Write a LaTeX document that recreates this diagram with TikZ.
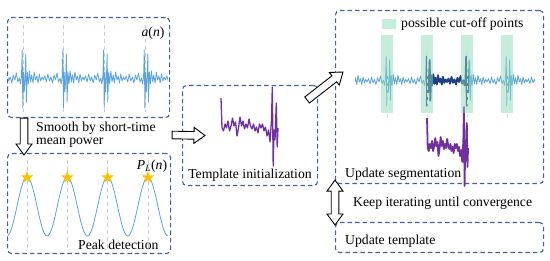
\documentclass[tikz,border=0pt]{standalone}
\usepackage{fontspec}
\setmainfont{Liberation Serif}
\usetikzlibrary{calc,shapes.geometric}
\definecolor{boxc}{RGB}{68,97,156}
\definecolor{sigc}{RGB}{91,163,219}
\definecolor{darkc}{RGB}{31,63,128}
\definecolor{purp}{RGB}{112,48,160}
\definecolor{bandc}{RGB}{140,220,185}
\definecolor{starc}{RGB}{255,192,0}
\definecolor{gridc}{RGB}{205,205,205}
\def\beatlist{-20/0, -18.5/-4, -17/2, -15.5/-6, -14/1, -12.5/-3, -11/3, -9.5/-5, -8/0, -6.5/-7, -5/2, -3.5/-2, -2.5/4, -1.5/-3, -0.8/-30, -0.2/28, 0.5/-8, 1.2/12, 2/-2, 2.7/-26, 3.3/22, 4.2/-8, 5.2/4, 6.3/-9, 7.5/2, 8.5/-5, 9.8/3, 11/-8, 12.3/0, 13.5/-4, 14.8/3, 16/-6, 17.3/1, 18.7/-3, 20/0}
\def\templist{1/1, 2.5/4, 4/-3, 5.5/1, 7/-6, 8.5/4, 10/-1, 11.5/-9, 13/-1, 14.5/-5, 16/9, 17.5/1, 19/-10, 20.5/-1, 22/-6, 23.5/2, 25/-3, 26.5/1, 28/-8, 29.5/-1, 31/2, 32.5/-3, 34/4, 35.5/0, 37/6, 38.5/-3, 40/1, 41.5/-3, 43/4, 44.5/0, 46/9, 47.5/3, 49/15, 50.5/-7, 51.3/-40, 52.2/39, 53/3, 54/13, 55.3/-24, 56.2/20, 57/1}
\newcommand\harrow[2]{%
\draw[harr] let \p1=#1, \p2=#2, \n1={atan2(\y2-\y1,\x2-\x1)}, \n2={veclen(\x2-\x1,\y2-\y1)} in [shift={(\p1)}, rotate=\n1]
 (0,3.8) -- ({\n2-11},3.8) -- ({\n2-11},8) -- (\n2,0) -- ({\n2-11},-8) -- ({\n2-11},-3.8) -- (0,-3.8) -- cycle;}
\newcommand\hdarrow[2]{%
\draw[harr] let \p1=#1, \p2=#2, \n1={atan2(\y2-\y1,\x2-\x1)}, \n2={veclen(\x2-\x1,\y2-\y1)} in [shift={(\p1)}, rotate=\n1]
 (0,0) -- (11,8) -- (11,3.8) -- ({\n2-11},3.8) -- ({\n2-11},8) -- (\n2,0) -- ({\n2-11},-8) -- ({\n2-11},-3.8) -- (11,-3.8) -- (11,-8) -- cycle;}
\begin{document}
\begin{tikzpicture}[x=1pt,y=-1pt,
  box/.style={draw=boxc, line width=1.1pt, dash pattern=on 4.5pt off 3pt, rounded corners=4pt, anchor=north west, inner sep=0pt},
  sig/.style={draw=sigc, line width=0.8pt, line join=round},
  grid/.style={draw=gridc, line width=0.8pt, dash pattern=on 4pt off 3pt},
  harr/.style={draw=black, fill=white, line width=0.9pt, line join=miter},
  lbl/.style={inner sep=0pt, font=\fontsize{13.7}{15}\selectfont},
  band/.style={fill=bandc, opacity=0.5},
  tmpl/.style={draw=purp, line join=round},
  stara/.style={star, star points=5, star point ratio=2.4, fill=starc, minimum size=13pt, inner sep=0pt}]
\useasboundingbox (0,0) rectangle (550,261);

% boxes
\node[box, minimum width=162pt, minimum height=100pt] (b1) at (7,17) {};
\node[box, minimum width=163pt, minimum height=100pt] (b2) at (7,153) {};
\node[box, minimum width=135pt, minimum height=100pt] (b3) at (182,85) {};
\node[box, minimum width=208pt, minimum height=173pt] (b4) at (335,10) {};
\node[box, minimum width=208pt, minimum height=30pt] (b5) at (335,222) {};

% box 1: a(n)
\foreach \c in {23,63.7,104.4,145.1} \draw[grid] (\c,25) -- (\c,112);
\begin{scope}
\clip (8,0) rectangle (168,261);
\draw[sig] (-30,80) \foreach \c in {-17.7,23,63.7,104.4,145.1,185.8} {\foreach \x/\y in \beatlist {-- ({\c+\x*1.02},{80+\y})}};
\end{scope}
\node[lbl] (an) at (153,33) {\textit{a}(\textit{n})};

% box 2: P_L(n)
\foreach \c in {27,67.3,107.6,148} \draw[grid] (\c,160) -- (\c,250);
\draw[sig] plot[domain=8:168, samples=140] (\x, {206.5-29.5*cos(8.933*(\x-27))});
\node[stara] (s1) at (27,177.5) {};
\node[stara] (s2) at (67.3,177.5) {};
\node[stara] (s3) at (107.6,177.5) {};
\node[stara] (s4) at (148,177.5) {};
\node[lbl] (pl) at (152,166) {\textit{P}\textsubscript{\textit{L}}(\textit{n})};
\node[lbl, anchor=west] (pk) at (78,245) {Peak detection};

% box 3: template
\begin{scope}[shift={(221,127)}]
\draw[tmpl, line width=1.3pt] (0,-29) \foreach \x/\y in \templist {-- (\x,\y)};
\end{scope}
\node[lbl] (ti) at (250,175) {Template initialization};

% box 4: segmentation
\begin{scope}
\clip (355,0) rectangle (535,261);
\draw[sig] (300,82) \foreach \c in {347,387,427,467,507,547} {\foreach \x/\y in \beatlist {-- ({\c+\x},{82+\y*0.85})}};
\end{scope}
\begin{scope}
\clip (426,0) rectangle (469,261);
\draw[darkc, line width=1.8pt, line join=round] (380,82) \foreach \c in {387,427,467,507} {\foreach \x/\y in \beatlist {-- ({\c+\x},{82+\y*0.85})}};
\end{scope}
\begin{scope}[shift={(427,147)}, xscale=0.72]
\draw[tmpl, line width=1.8pt] (0,-29) \foreach \x/\y in \templist {-- (\x,\y)};
\end{scope}
\foreach \c in {387,427,467,507} {
  \fill[band] (\c-6,35) rectangle (\c+6,113);
  \draw[grid, draw=gridc!70, line width=0.5pt] (\c,37) -- (\c,117);
}
\fill[band] (382,19) rectangle (396,29);
\node[lbl, anchor=west] (lg) at (401,24) {possible cut-off points};
\node[lbl, anchor=west] (us) at (345,174) {Update segmentation};

% box 5
\node[lbl, anchor=west] (ut) at (345,241) {Update template};
\node[lbl, anchor=west] (kp) at (353,203) {Keep iterating until convergence};

% smooth label
\node[lbl, anchor=west] (sm1) at (36,128) {Smooth by short-time};
\node[lbl, anchor=west] (sm2) at (36,143) {mean power};

% hollow arrows
\coordinate (a1s) at ($(b1.south west)+(17,0)$);
\coordinate (a1e) at ($(b2.north west)+(17,2)$);
\coordinate (a2s) at ($(b2.north east)+(1,-18)$);
\coordinate (a2e) at ($(b3.west)+(23,0)$);
\coordinate (a3s) at ($(b3.north east)+(-11,15)$);
\coordinate (a3e) at ($(b4.north west)+(8,62)$);
\coordinate (a4s) at ($(b4.south west)+(0,-4)$);
\coordinate (a4e) at ($(b5.north west)+(0,3)$);
\harrow{(a1s)}{(a1e)}
\harrow{(a2s)}{(a2e)}
\harrow{(a3s)}{(a3e)}
\hdarrow{(a4s)}{(a4e)}
\end{tikzpicture}
\end{document}
